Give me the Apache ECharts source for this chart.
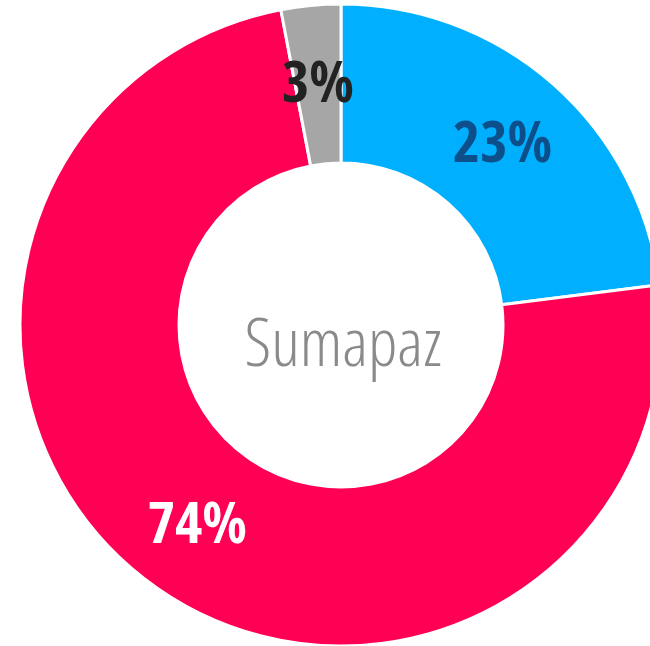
<!DOCTYPE html>
<html>
<head>
<meta charset="utf-8">
<script src="https://cdn.jsdelivr.net/npm/echarts@6/dist/echarts.min.js"></script>
<style>
  html, body { margin: 0; padding: 0; background: #fff; }
  #chart { width: 650px; height: 646px; }
</style>
</head>
<body>
<div id="chart"></div>
<script>
// slice order goes clockwise from 12 o'clock
const categories = ['Azul', 'Rojo', 'Otro']
const values = [23, 74, 3]
const sliceColors = ['#00b0ff', '#ff0055', '#a6a6a6']
const labelColors = ['#0d4f8b', '#ffffff', '#222222']
const centerTitle = 'Sumapaz'

const myChart = echarts.init(document.getElementById('chart'))

const option = {
  animation: false,
  title: {
    text: centerTitle,
    left: 338,
    top: 342,
    textAlign: 'center',
    textVerticalAlign: 'middle',
    textStyle: {
      fontFamily: '"Open Sans", sans-serif',
      fontWeight: '300 condensed',
      fontSize: 67,
      color: '#8a8a8a'
    }
  },
  series: [
    {
      type: 'pie',
      center: [341, 325],
      radius: [162, 321],
      startAngle: 90,
      clockwise: true,
      avoidLabelOverlap: false,
      itemStyle: {
        borderColor: '#fff',
        borderWidth: 3
      },
      label: {
        show: true,
        position: 'inside',
        formatter: '{d}%',
        offset: [0, 4],
        fontFamily: '"Open Sans", sans-serif',
        fontWeight: 'bold condensed',
        fontSize: 58
      },
      labelLine: { show: false },
      data: categories.map((name, i) => ({
        name: name,
        value: values[i],
        itemStyle: { color: sliceColors[i] },
        label: { color: labelColors[i] }
      }))
    }
  ]
}

myChart.setOption(option)
</script>
</body>
</html>
